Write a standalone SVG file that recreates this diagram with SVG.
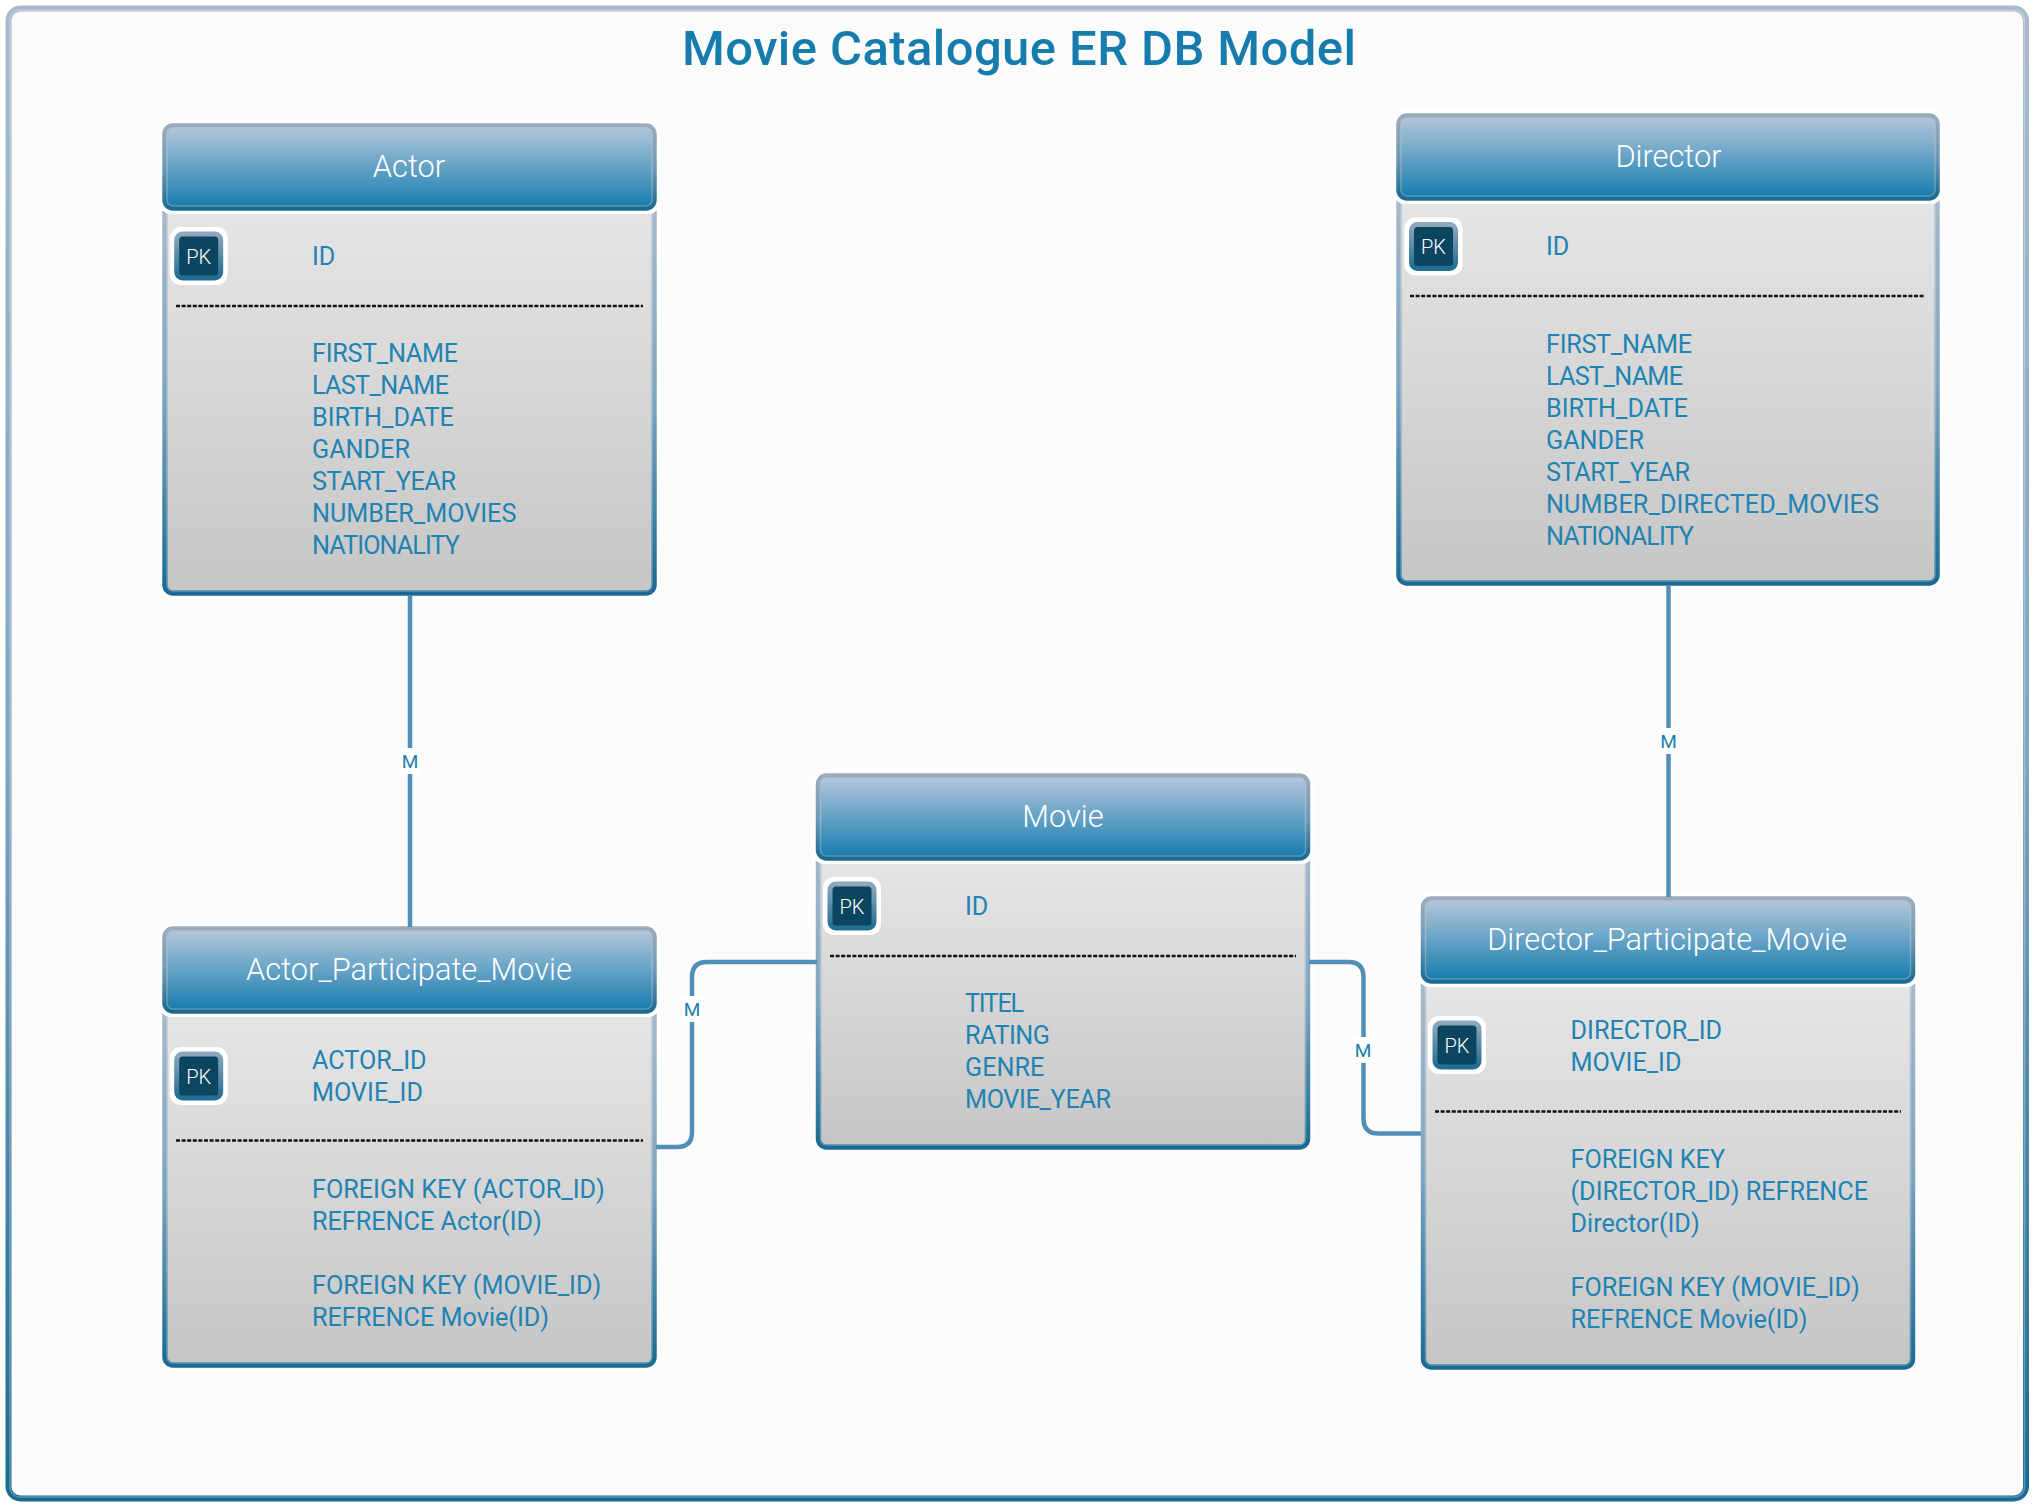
<svg xmlns="http://www.w3.org/2000/svg" width="2036" height="1508" viewBox="0 0 2036 1508">
<defs>
<linearGradient id="edge" x1="0" y1="0" x2="0" y2="1"><stop offset="0" stop-color="#a9b9ca"/><stop offset="0.5" stop-color="#7fa5c0"/><stop offset="1" stop-color="#1a6a92"/></linearGradient>
<linearGradient id="edgeH" x1="0" y1="0" x2="0" y2="1"><stop offset="0" stop-color="#9aabbc"/><stop offset="0.5" stop-color="#6f9bb8"/><stop offset="1" stop-color="#1a6a92"/></linearGradient>
<linearGradient id="head" x1="0" y1="0" x2="0" y2="1"><stop offset="0" stop-color="#b6c8dc"/><stop offset="1" stop-color="#147cae"/></linearGradient>
<linearGradient id="body" x1="0" y1="0" x2="0" y2="1"><stop offset="0" stop-color="#e6e6e6"/><stop offset="1" stop-color="#c6c6c6"/></linearGradient>
<linearGradient id="pk" x1="0" y1="0" x2="0" y2="1"><stop offset="0" stop-color="#8fa8bd"/><stop offset="1" stop-color="#1f6d93"/></linearGradient>
<symbol id="badge" overflow="visible">
<rect x="-29" y="-29" width="58" height="58" rx="11" fill="#ffffff"/>
<rect x="-22" y="-22" width="44" height="44" rx="6" fill="#0c4560" stroke="url(#pk)" stroke-width="5"/>
<text x="0" y="7.5" text-anchor="middle" class="pk">PK</text>
</symbol>
</defs>
<style>
text{font-family:"Roboto","Liberation Sans",sans-serif}
.title{font-size:49px;font-weight:500;fill:#157cad}
.hd{font-size:30.8px;font-weight:300;fill:#ffffff;text-anchor:middle}
.f{font-size:25.2px;font-weight:400;fill:#1f83b3}
.pk{font-size:20px;font-weight:300;fill:#ffffff}
.m{font-size:19px;font-weight:400;fill:#1a7fb0;text-anchor:middle}
.halo{fill:#ffffff}
.b{fill:url(#body);stroke:url(#edge);stroke-width:5.500}
.h{fill:url(#head);stroke:url(#edgeH);stroke-width:5.500}
.in{fill:none;stroke:#ffffff;stroke-opacity:.28;stroke-width:1.500}
.div{stroke:#111111;stroke-width:2.400;stroke-dasharray:4 1.600;fill:none}
.c{fill:none;stroke:#4f8fb8;stroke-width:4.500}
</style>
<rect x="0" y="0" width="2036" height="1508" fill="#ffffff"/>
<g id="frame"><rect x="8.500" y="8.500" width="2017.500" height="1490" rx="12" fill="#fcfcfc" stroke="url(#edge)" stroke-width="6"/><rect class="in" x="10" y="10" width="2014.500" height="1487" rx="10" stroke-opacity=".4"/></g>
<text class="title" x="682" y="65" textLength="674">Movie Catalogue ER DB Model</text>

<g id="actor">
<rect class="halo" x="159" y="200" width="501" height="399" rx="12"/>
<rect class="b" x="165" y="200" width="489" height="393" rx="8"/>
<rect class="in" x="167" y="205" width="485" height="386" rx="6"/>
<rect class="halo" x="159" y="120" width="501" height="94" rx="12"/>
<rect class="h" x="165" y="126" width="489" height="82" rx="8"/>
<rect class="in" x="167" y="128" width="485" height="78" rx="6"/>
<text class="hd" x="409" y="177">Actor</text>
<use href="#badge" x="198.700" y="256"/>
<text class="f" x="312" y="265">ID</text>
<path class="div" d="M176 306H643"/>
<text class="f" x="312" y="362" textLength="146">FIRST_NAME</text>
<text class="f" x="312" y="394" textLength="137">LAST_NAME</text>
<text class="f" x="312" y="426">BIRTH_DATE</text>
<text class="f" x="312" y="458">GANDER</text>
<text class="f" x="312" y="490" textLength="144">START_YEAR</text>
<text class="f" x="312" y="522">NUMBER_MOVIES</text>
<text class="f" x="312" y="554" textLength="148">NATIONALITY</text>
</g>

<g id="director">
<rect class="halo" x="1393" y="190" width="550" height="399" rx="12"/>
<rect class="b" x="1399" y="190" width="538" height="393" rx="8"/>
<rect class="in" x="1401" y="195" width="534" height="386" rx="6"/>
<rect class="halo" x="1393" y="110" width="550" height="94" rx="12"/>
<rect class="h" x="1399" y="116" width="538" height="82" rx="8"/>
<rect class="in" x="1401" y="118" width="534" height="78" rx="6"/>
<text class="hd" x="1668.500" y="167">Director</text>
<use href="#badge" x="1433.500" y="246.500"/>
<text class="f" x="1546" y="255">ID</text>
<path class="div" d="M1410 296H1925"/>
<text class="f" x="1546" y="353" textLength="146">FIRST_NAME</text>
<text class="f" x="1546" y="385" textLength="137">LAST_NAME</text>
<text class="f" x="1546" y="417">BIRTH_DATE</text>
<text class="f" x="1546" y="449">GANDER</text>
<text class="f" x="1546" y="481" textLength="144">START_YEAR</text>
<text class="f" x="1546" y="513" textLength="333">NUMBER_DIRECTED_MOVIES</text>
<text class="f" x="1546" y="545" textLength="148">NATIONALITY</text>
</g>

<g id="movie">
<rect class="halo" x="812.500" y="850" width="501" height="303" rx="12"/>
<rect class="b" x="818.500" y="850" width="489" height="297" rx="8"/>
<rect class="in" x="820.500" y="855" width="485" height="290" rx="6"/>
<rect class="halo" x="812.500" y="770" width="501" height="94" rx="12"/>
<rect class="h" x="818.500" y="776" width="489" height="82" rx="8"/>
<rect class="in" x="820.500" y="778" width="485" height="78" rx="6"/>
<text class="hd" x="1063" y="827">Movie</text>
<use href="#badge" x="852" y="906"/>
<text class="f" x="965" y="915">ID</text>
<path class="div" d="M830 956H1296"/>
<text class="f" x="965" y="1012" textLength="59">TITEL</text>
<text class="f" x="965" y="1044" textLength="85">RATING</text>
<text class="f" x="965" y="1076">GENRE</text>
<text class="f" x="965" y="1108" textLength="146">MOVIE_YEAR</text>
</g>

<g id="actor_participate_movie">
<rect class="halo" x="159" y="1005" width="501" height="365" rx="12"/>
<rect class="b" x="165" y="1005" width="489" height="360" rx="8"/>
<rect class="in" x="167" y="1010" width="485" height="353" rx="6"/>
<rect class="halo" x="159" y="923" width="501" height="94" rx="12"/>
<rect class="h" x="165" y="929" width="489" height="82" rx="8"/>
<rect class="in" x="167" y="931" width="485" height="78" rx="6"/>
<text class="hd" x="409" y="980">Actor_Participate_Movie</text>
<use href="#badge" x="198.700" y="1076"/>
<text class="f" x="312" y="1069">ACTOR_ID</text>
<text class="f" x="312" y="1101">MOVIE_ID</text>
<path class="div" d="M176 1140.500H643"/>
<text class="f" x="312" y="1198">FOREIGN KEY (ACTOR_ID)</text>
<text class="f" x="312" y="1230">REFRENCE Actor(ID)</text>
<text class="f" x="312" y="1294">FOREIGN KEY (MOVIE_ID)</text>
<text class="f" x="312" y="1326">REFRENCE Movie(ID)</text>
</g>

<g id="director_participate_movie">
<rect class="halo" x="1417.500" y="975" width="501" height="398" rx="12"/>
<rect class="b" x="1423.500" y="975" width="489" height="392" rx="8"/>
<rect class="in" x="1425.500" y="980" width="485" height="385" rx="6"/>
<rect class="halo" x="1417.500" y="893" width="501" height="94" rx="12"/>
<rect class="h" x="1423.500" y="899" width="489" height="82" rx="8"/>
<rect class="in" x="1425.500" y="901" width="485" height="78" rx="6"/>
<text class="hd" x="1667" y="950">Director_Participate_Movie</text>
<use href="#badge" x="1457" y="1045"/>
<text class="f" x="1570.500" y="1039">DIRECTOR_ID</text>
<text class="f" x="1570.500" y="1071">MOVIE_ID</text>
<path class="div" d="M1435 1111.500H1901"/>
<text class="f" x="1570.500" y="1168">FOREIGN KEY</text>
<text class="f" x="1570.500" y="1200">(DIRECTOR_ID) REFRENCE</text>
<text class="f" x="1570.500" y="1232">Director(ID)</text>
<text class="f" x="1570.500" y="1296">FOREIGN KEY (MOVIE_ID)</text>
<text class="f" x="1570.500" y="1328">REFRENCE Movie(ID)</text>
</g>

<g id="connectors">
<path class="c" d="M410 595V927"/>
<path class="c" d="M1668.500 585V897"/>
<path class="c" d="M656 1147H677Q692 1147 692 1132V977Q692 962 707 962H817"/>
<path class="c" d="M1309 962H1348.500Q1363.500 962 1363.500 977V1118.500Q1363.500 1133.500 1378.500 1133.500H1421"/>
<rect x="401" y="748" width="18" height="26" fill="#ffffff"/><text class="m" x="410" y="768">M</text>
<rect x="1659.500" y="728" width="18" height="26" fill="#ffffff"/><text class="m" x="1668.500" y="748">M</text>
<rect x="683" y="996" width="18" height="26" fill="#ffffff"/><text class="m" x="692" y="1016">M</text>
<rect x="1354.500" y="1037" width="18" height="26" fill="#ffffff"/><text class="m" x="1363" y="1057">M</text>
</g>
</svg>
